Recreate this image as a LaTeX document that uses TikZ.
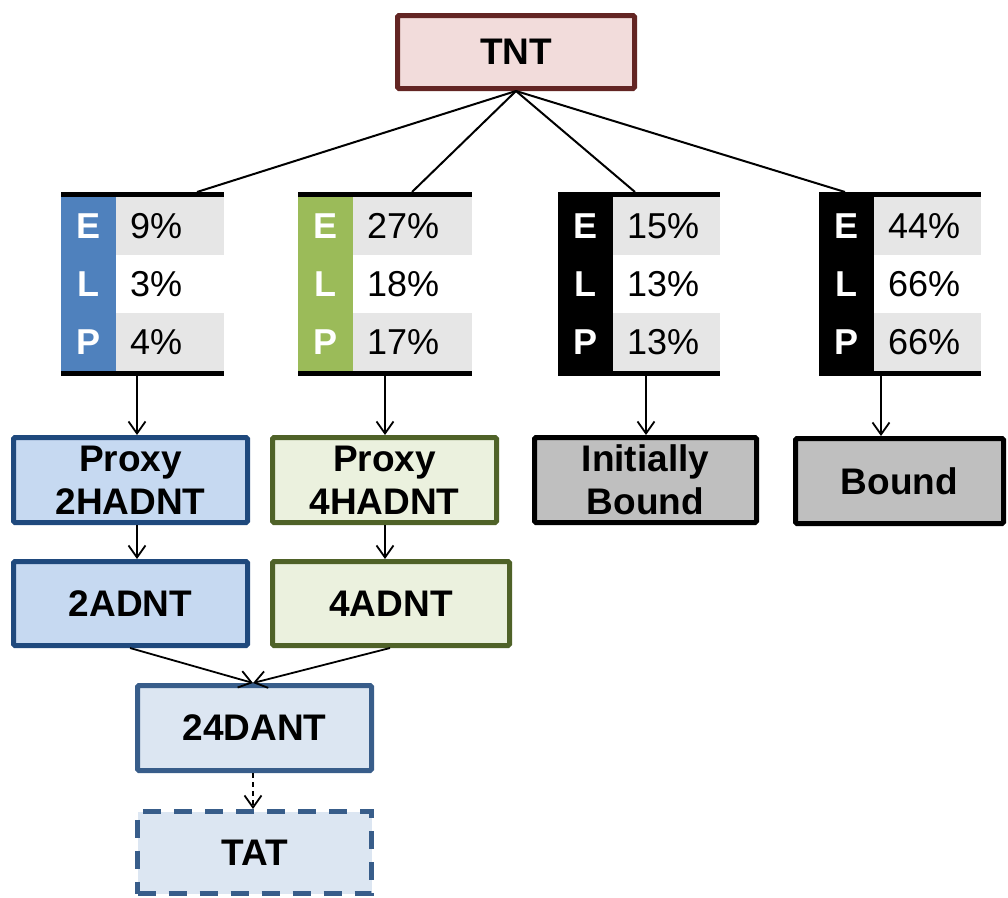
\documentclass[tikz,border=0pt]{standalone}
\usepackage{fontspec}
\setmainfont{Liberation Sans}
\usetikzlibrary{arrows.meta}
\definecolor{tntfill}{HTML}{F2DCDB}
\definecolor{tntdraw}{HTML}{632523}
\definecolor{bluecol}{HTML}{4F81BD}
\definecolor{greencol}{HTML}{9BBB59}
\definecolor{rowgrey}{HTML}{E6E6E6}
\definecolor{bluefill}{HTML}{C6D9F1}
\definecolor{bluedraw}{HTML}{1F497D}
\definecolor{greenfill}{HTML}{EBF1DE}
\definecolor{greendraw}{HTML}{4F6228}
\definecolor{greyfill}{HTML}{BFBFBF}
\definecolor{dfill}{HTML}{DCE6F2}
\definecolor{ddraw}{HTML}{385D8A}
\tikzset{
  box/.style={draw, line width=5pt, rounded corners=1.5pt, inner sep=0pt, align=center,
    font=\fontsize{37}{43}\selectfont\bfseries},
  lab/.style={text=white, inner sep=0pt, font=\fontsize{36}{42}\selectfont\bfseries},
  pct/.style={inner sep=0pt, anchor=west, font=\fontsize{36}{42}\selectfont},
  link/.style={line width=2pt},
  arr/.style={line width=1.8pt, -{Straight Barb[length=12pt,width=17pt,line width=1.8pt]}},
}
\newcommand{\elptab}[7]{%
  \node[minimum width=#7pt, minimum height=184pt, inner sep=0pt, outer sep=0pt, anchor=north west] (#1) at (#2,192) {};
  \fill[#3] (#2,192) rectangle (#2+55,376);
  \fill[rowgrey] (#2+55,197) rectangle (#2+#7,255);
  \fill[rowgrey] (#2+55,313) rectangle (#2+#7,371);
  \fill[black] (#2,192) rectangle (#2+#7,197);
  \fill[black] (#2,371) rectangle (#2+#7,376);
  \node[lab] (#1E) at (#2+27.5,226) {E};
  \node[lab] (#1L) at (#2+27.5,284) {L};
  \node[lab] (#1P) at (#2+27.5,342) {P};
  \node[pct] (#1e) at (#2+69,226) {#4\%};
  \node[pct] (#1l) at (#2+69,284) {#5\%};
  \node[pct] (#1p) at (#2+69,342) {#6\%};
}
\begin{document}
\begin{tikzpicture}[x=1pt,y=-1pt]
\useasboundingbox (0,0) rectangle (1008,897);

\node[box, fill=tntfill, draw=tntdraw, minimum width=237pt, minimum height=73pt] (tnt) at (516,52) {TNT};

\elptab{ta}{61}{bluecol}{9}{3}{4}{163}
\elptab{tb}{298}{greencol}{27}{18}{17}{174}
\elptab{tc}{558}{black}{15}{13}{13}{162}
\elptab{td}{819}{black}{44}{66}{66}{162}

\coordinate (tain) at (197,192);
\coordinate (tbin) at (412,192);
\coordinate (tcin) at (635,192);
\coordinate (tdin) at (845,192);
\draw[link] (tnt.south) -- (tain);
\draw[link] (tnt.south) -- (tbin);
\draw[link] (tnt.south) -- (tcin);
\draw[link] (tnt.south) -- (tdin);

\node[box, fill=bluefill, draw=bluedraw, minimum width=234pt, minimum height=85pt] (p2) at (130.5,480) {Proxy\\2HADNT};
\node[box, fill=greenfill, draw=greendraw, minimum width=224pt, minimum height=85pt] (p4) at (384.5,480) {Proxy\\4HADNT};
\node[box, fill=greyfill, draw=black, minimum width=222pt, minimum height=85pt] (ib) at (645.5,480) {Initially\\Bound};
\node[box, fill=greyfill, draw=black, minimum width=208pt, minimum height=85pt] (bd) at (899.5,481) {Bound};

\node[box, fill=bluefill, draw=bluedraw, minimum width=234pt, minimum height=84pt] (a2) at (130.5,603.5) {2ADNT};
\node[box, fill=greenfill, draw=greendraw, minimum width=237pt, minimum height=84pt] (a4) at (391,603.5) {4ADNT};

\node[box, fill=dfill, draw=ddraw, minimum width=234pt, minimum height=85pt] (d24) at (254.5,728) {24DANT};
\node[box, fill=dfill, draw=ddraw, dash pattern=on 18pt off 13pt, rounded corners=0pt, minimum width=234pt, minimum height=82pt] (tat) at (254.5,852.5) {TAT};

\coordinate (taout) at (137,376);
\coordinate (tbout) at (385,376);
\coordinate (tcout) at (646,376);
\coordinate (tdout) at (881,376);
\draw[arr] (taout) -- (taout |- p2.north);
\draw[arr] (tbout) -- (tbout |- p4.north);
\draw[arr] (tcout) -- (tcout |- ib.north);
\draw[arr] (tdout) -- (tdout |- bd.north);

\coordinate (p2out) at (137,525);
\coordinate (p4out) at (385,525);
\draw[arr] (p2out) -- (p2out |- a2.north);
\draw[arr] (p4out) -- (p4out |- a4.north);

\coordinate (a2out) at (130,648);
\coordinate (a4out) at (390,648);
\coordinate (d24in) at (253,683);
\draw[arr] (a2out) -- (d24in);
\draw[arr] (a4out) -- (d24in);

\coordinate (d24out) at (253,773);
\draw[arr, dash pattern=on 5pt off 4pt] (d24out) -- (d24out |- tat.north);
\end{tikzpicture}
\end{document}
